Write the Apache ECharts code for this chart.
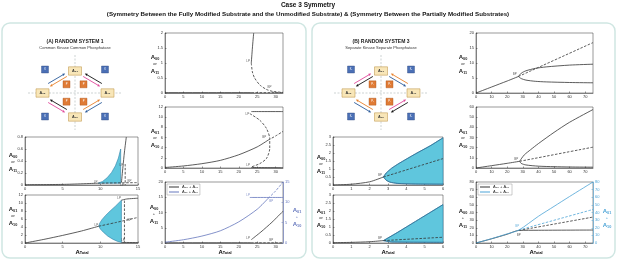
<!DOCTYPE html>
<html>
<head>
<meta charset="utf-8">
<script src="https://cdn.jsdelivr.net/npm/echarts@6/dist/echarts.min.js"></script>
<style>
  html, body { margin: 0; padding: 0; background: #fff; }
  #chart { width: 617px; height: 260px; }
</style>
</head>
<body>
<div id="chart"></div>
<script>
// ---------- data ----------
// (a) Random System 1, A00 or A11 vs ATotal (0-15)
const s1L1Solid = [[0, 0.005], [5, 0.01], [9.7, 0.03]];
const s1L1Dash = [[9.7, 0.03], [15, 0.04]];
const s1L1Fill = [[9.7, 0.03], [10.3, 0.06], [10.9, 0.12], [11.5, 0.21], [12, 0.32], [12.4, 0.45], [12.7, 0.6], [12.7, 0.03]];
const s1L1Steep = [[12.8, 0.04], [13.0, 0.3], [13.2, 0.55], [13.45, 0.8]];
const s1L1VDash = [[13.3, 0.35], [13.3, 0]];
const s1L1Marks = [[9.7, 0.05, 'LP'], [13.1, 0.33, 'LP'], [14.2, 0.07, 'BP'], [13.2, 0.0, 'LP']];
// (a) A01 or A10
const s1L2Solid = [[0, 0], [2.5, 0.9], [5, 1.9], [7.5, 3], [9.8, 4.2]];
const s1L2Dash = [[9.8, 4.2], [12, 5.1], [15, 6.4]];
const s1L2Fill = [[12.8, 0.15], [12.3, 0.4], [11.7, 0.9], [11, 1.7], [10.4, 2.7], [10, 3.5], [9.8, 4.2], [9.9, 4.9], [10.2, 5.8], [10.7, 6.9], [11.3, 8], [12, 9.2], [12.8, 10.7]];
const s1L2Top = [[12.8, 10.7], [13.5, 11], [15, 11.2]];
const s1L2Bot = [[12.8, 0.15], [15, 0.1]];
const s1L2VDash = [[13.2, 10.6], [13.2, 0.2]];
const s1L2Marks = [[9.8, 4.4, 'LP'], [12.8, 11.2, 'LP'], [14.2, 5.6, 'BP'], [13.3, 0.8, 'LP']];
// (a) right column, ATotal 0-32
const s1R1Base = [[0, 0.01], [23.5, 0.01]];
const s1R1BaseDash = [[23.5, 0.01], [32, 0.01]];
const s1R1Up = [[23.4, 1.0], [23.7, 1.5], [24.05, 2]];
const s1R1Dash = [[23.4, 1.0], [23.7, 0.7], [24.3, 0.5], [25.7, 0.27], [27.5, 0.12], [29.3, 0.05], [32, 0.02]];
const s1R1Marks = [[23.2, 1.05, 'LP'], [29, 0.18, 'BP'], [23.5, -0.08, 'LP']];
const s1R2Solid = [[0, 0.1], [5, 0.4], [10, 0.85], [15, 1.5], [20, 2.6], [25, 4.15], [28, 5.5]];
const s1R2Dash = [[28, 5.5], [30, 6.3], [32, 7.2]];
const s1R2Arc = [[23, 10.7], [25.7, 9.4], [27.5, 7.8], [28.4, 5.8], [28.4, 3.8], [27.5, 1.85], [25.7, 0.86], [23.4, 0.2]];
const s1R2Top = [[23.4, 11.1], [32, 11.1]];
const s1R2Bot = [[23.4, 0.1], [32, 0.05]];
const s1R2Marks = [[23, 10.6, 'LP'], [27.6, 6, 'BP'], [23.2, 0.6, 'LP']];
const s1R3Base = [[0, 0.05], [23.4, 0.05]];
const s1R3BaseDash = [[23.4, 0.05], [32, 0.05]];
const s1R3Rise = [[23.4, 1.1], [26, 3.6], [29, 6.8], [32, 10.4]];
const s1R3Blue = [[0, 0.2], [5, 0.8], [10, 1.7], [15, 3], [20, 5.2], [25, 8.3], [28, 11]];
const s1R3BlueDash = [[28, 11], [30, 12.8], [32, 15]];
const s1R3BlueFlat = [[23, 11.2], [32, 11.2]];
const s1R3Marks = [[23.2, 1.5, 'LP'], [29.5, 0.9, 'BP']];
const s1R3BlueMarks = [[23.2, 11.8, 'LP'], [29.5, 10.2, 'BP']];

// (b) Random System 3, ATotal 0-6
const s3L1Solid = [[0, 0], [1, 0.05], [2, 0.2], [2.75, 0.5]];
const s3L1Upper = [[2.75, 0.5], [2.9, 0.75], [3.2, 1.05], [3.6, 1.35], [4.5, 1.95], [5.3, 2.45], [6, 2.95]];
const s3L1Lower = [[2.75, 0.5], [2.9, 0.3], [3.1, 0.18], [3.5, 0.1], [4.5, 0.06], [6, 0.05]];
const s3L1Dash = [[2.75, 0.5], [6, 1.65]];
const s3L1Marks = [[2.7, 0.62, 'BP']];
const s3L2Solid = [[0, 0.02], [1, 0.04], [2, 0.08], [2.75, 0.15]];
const s3L2Upper = [[2.75, 0.15], [3.5, 0.65], [4.5, 1.35], [6, 2.4]];
const s3L2Lower = [[2.75, 0.15], [3.2, 0.06], [6, 0.04]];
const s3L2Dash = [[2.75, 0.15], [6, 0.36]];
const s3L2Marks = [[2.7, 0.3, 'BP']];
// (b) right column, ATotal 0-75
const s3R1Solid = [[0, 0], [10, 2], [20, 4], [27.2, 5.5]];
const s3R1Dash = [[27.2, 5.5], [75, 16.8]];
const s3R1Upper = [[27.2, 5.5], [29, 6.6], [32, 7.4], [38, 8.2], [45, 8.7], [60, 9.3], [75, 9.6]];
const s3R1Lower = [[27.2, 5.5], [29, 4.8], [32, 4.3], [38, 3.9], [45, 3.7], [60, 3.5], [75, 3.4]];
const s3R1Marks = [[26.5, 6.2, 'BP']];
const s3R2Solid = [[0, 0], [10, 2.3], [20, 4.6], [28, 6.6]];
const s3R2Upper = [[28, 6.6], [29, 9], [31, 13], [35, 18], [40, 24], [50, 35], [60, 45], [75, 57.5]];
const s3R2Lower = [[28, 6.6], [29, 4.5], [32, 3], [40, 1.8], [50, 1.3], [60, 1], [75, 0.8]];
const s3R2Dash = [[28, 6.6], [75, 20.5]];
const s3R2Marks = [[27.5, 8.5, 'BP']];
const s3R3Black = [[0, 0], [10, 5.5], [20, 11.5], [27.5, 16.5], [40, 16.7], [75, 17]];
const s3R3BlackDash = [[27.5, 16.5], [75, 34]];
const s3R3Blue = [[0, 0], [10, 5.7], [20, 12], [27.5, 17], [40, 35], [50, 48], [60, 61], [75, 80]];
const s3R3BlueDash = [[27.5, 17], [75, 44]];
const s3R3Marks = [[29, 10, 'BP']];
const s3R3BlueMarks = [[28, 22, 'BP']];

// axis ranges [max, interval] per panel
const xRanges = [[15, 5], [15, 5], [32, 5], [32, 5], [32, 5], [6, 1], [6, 1], [75, 10], [75, 10], [75, 10]];
const yRanges = [[0.8, 0.2], [12, 2], [2, 0.5], [12, 2], [20, 5], [3, 0.5], [3, 0.5], [20, 5], [60, 10], [80, 10]];
const rightRanges = [[4, 15, 5], [9, 80, 10]];

// ---------- layout ----------
const grids = [
  [25, 137, 113, 48], [25, 195, 113, 48], [165, 33, 118, 60], [165, 107, 118, 61], [165, 182, 118, 61],
  [333, 137, 110, 48], [333, 195, 110, 48], [476, 33, 117, 60], [476, 107, 117, 61], [476, 182, 117, 61]
];
const DARK = '#333';
const BLUE1 = '#6476bd';
const BLUE3 = '#4ba3d6';
const FILL = '#5fc6dd';

const chart = echarts.init(document.getElementById('chart'));

const xAxis = grids.map((g, i) => ({
  type: 'value', gridIndex: i, min: 0, max: xRanges[i][0], interval: xRanges[i][1],
  axisLine: { show: true, lineStyle: { color: DARK, width: 0.5 } },
  axisTick: { inside: true, length: 1.5, lineStyle: { width: 0.5 } },
  axisLabel: { fontSize: 4, color: DARK, margin: 2, showMaxLabel: xRanges[i][0] % xRanges[i][1] === 0 },
  splitLine: { show: false }
}));
const yAxis = grids.map((g, i) => ({
  type: 'value', gridIndex: i, min: 0, max: yRanges[i][0], interval: yRanges[i][1],
  axisLine: { show: true, lineStyle: { color: DARK, width: 0.5 } },
  axisTick: { inside: true, length: 1.5, lineStyle: { width: 0.5 } },
  axisLabel: { fontSize: 4, color: DARK, margin: 2 },
  splitLine: { show: false }
}));
rightRanges.forEach(r => {
  const c = r[0] === 4 ? BLUE1 : BLUE3;
  yAxis.push({
    type: 'value', gridIndex: r[0], position: 'right', min: 0, max: r[1], interval: r[2],
    axisLine: { show: true, lineStyle: { color: c, width: 0.6 } },
    axisTick: { inside: true, length: 1.5, lineStyle: { width: 0.5, color: c } },
    axisLabel: { fontSize: 4, color: c, margin: 2 },
    splitLine: { show: false }
  });
});

function ln(gi, yi, data, color, dashed, name) {
  return {
    type: 'line', name: name, xAxisIndex: gi, yAxisIndex: yi, data: data,
    showSymbol: false, symbol: 'none', smooth: 0.25, silent: true, z: 3,
    lineStyle: { color: color, width: 0.8, type: dashed ? [2.5, 1.5] : 'solid' },
    itemStyle: { color: color }
  };
}
function fill(gi, pts) {
  return {
    type: 'custom', xAxisIndex: gi, yAxisIndex: gi, data: [[0, 0]], silent: true, z: 2,
    renderItem: (p, api) => ({
      type: 'polygon',
      shape: { points: pts.map(q => api.coord(q)) },
      style: { fill: FILL, stroke: '#2f7fa8', lineWidth: 0.6 }
    })
  };
}
function marks(gi, yi, arr, color) {
  return {
    type: 'scatter', xAxisIndex: gi, yAxisIndex: yi, data: arr, symbolSize: 0.1, silent: true, z: 4,
    itemStyle: { color: 'rgba(0,0,0,0)' },
    label: { show: true, formatter: p => p.value[2], fontSize: 3, color: color || DARK, position: 'left', distance: 0.5 }
  };
}

const series = [
  fill(0, s1L1Fill),
  ln(0, 0, s1L1Solid, DARK), ln(0, 0, s1L1Dash, DARK, true), ln(0, 0, s1L1Steep, DARK),
  ln(0, 0, s1L1VDash, DARK, true), marks(0, 0, s1L1Marks),
  fill(1, s1L2Fill),
  ln(1, 1, s1L2Solid, DARK), ln(1, 1, s1L2Dash, DARK, true), ln(1, 1, s1L2Top, DARK),
  ln(1, 1, s1L2Bot, DARK), ln(1, 1, s1L2VDash, DARK, true), marks(1, 1, s1L2Marks),
  ln(2, 2, s1R1Base, DARK), ln(2, 2, s1R1BaseDash, DARK, true), ln(2, 2, s1R1Up, DARK),
  ln(2, 2, s1R1Dash, DARK, true), marks(2, 2, s1R1Marks),
  ln(3, 3, s1R2Solid, DARK), ln(3, 3, s1R2Dash, DARK, true), ln(3, 3, s1R2Arc, DARK, true),
  ln(3, 3, s1R2Top, DARK), ln(3, 3, s1R2Bot, DARK), marks(3, 3, s1R2Marks),
  ln(4, 4, s1R3Base, DARK, false, 'A₀₀ + A₁₁'), ln(4, 4, s1R3BaseDash, DARK, true), ln(4, 4, s1R3Rise, DARK),
  ln(4, 10, s1R3Blue, BLUE1, false, 'A₀₁ + A₁₀'), ln(4, 10, s1R3BlueDash, BLUE1, true),
  ln(4, 10, s1R3BlueFlat, BLUE1), marks(4, 4, s1R3Marks), marks(4, 10, s1R3BlueMarks, BLUE1),

  fill(5, s3L1Upper.concat(s3L1Lower.slice().reverse())),
  ln(5, 5, s3L1Solid, DARK), ln(5, 5, s3L1Upper, '#2f6f95'), ln(5, 5, s3L1Lower, '#2f6f95'),
  ln(5, 5, s3L1Dash, DARK, true), marks(5, 5, s3L1Marks),
  fill(6, s3L2Upper.concat(s3L2Lower.slice().reverse())),
  ln(6, 6, s3L2Solid, DARK), ln(6, 6, s3L2Upper, '#2f6f95'), ln(6, 6, s3L2Lower, '#2f6f95'),
  ln(6, 6, s3L2Dash, DARK, true), marks(6, 6, s3L2Marks),
  ln(7, 7, s3R1Solid, DARK), ln(7, 7, s3R1Dash, DARK, true), ln(7, 7, s3R1Upper, DARK),
  ln(7, 7, s3R1Lower, DARK), marks(7, 7, s3R1Marks),
  ln(8, 8, s3R2Solid, DARK), ln(8, 8, s3R2Upper, DARK), ln(8, 8, s3R2Lower, DARK),
  ln(8, 8, s3R2Dash, DARK, true), marks(8, 8, s3R2Marks),
  ln(9, 9, s3R3Black, DARK, false, 'A₀₀ + A₁₁ '), ln(9, 9, s3R3BlackDash, DARK, true),
  ln(9, 11, s3R3Blue, BLUE3, false, 'A₀₁ + A₁₀ '), ln(9, 11, s3R3BlueDash, BLUE3, true),
  marks(9, 9, s3R3Marks), marks(9, 11, s3R3BlueMarks, BLUE3)
];

// ---------- text and diagrams ----------
const sub = (a, s) => `{a|${a}}{s|${s}}`;
const labelRich = c => ({
  a: { fontSize: 6, fontWeight: 'bold', color: c },
  s: { fontSize: 3.8, fontWeight: 'bold', color: c, verticalAlign: 'bottom', padding: [2, 0, 0, 0] },
  o: { fontSize: 4, color: c }
});
function yLab(x, y, top, mid, bot, color) {
  const c = color || '#222';
  return {
    type: 'text', x: x, y: y, z: 10,
    style: {
      text: sub('A', top) + '\n{o|' + mid + '}\n' + sub('A', bot),
      rich: labelRich(c), fill: c, align: 'center', textAlign: 'center',
      verticalAlign: 'middle', textVerticalAlign: 'middle', lineHeight: 7
    }
  };
}
function xLab(x, y) {
  return {
    type: 'text', x: x, y: y, z: 10,
    style: { text: sub('A', 'Total'), rich: labelRich('#222'), align: 'center', textAlign: 'center', verticalAlign: 'middle', textVerticalAlign: 'middle' }
  };
}
function txt(x, y, text, size, weight, color) {
  return {
    type: 'text', x: x, y: y, z: 10,
    style: { text: text, fontSize: size, fontWeight: weight || 'normal', fill: color || '#222', align: 'center', textAlign: 'center', verticalAlign: 'middle', textVerticalAlign: 'middle' }
  };
}

const ARROW = { blue: '#2a5a9a', orange: '#e8802a', black: '#111', pink: '#e0479a' };
function arrow(x1, y1, x2, y2, color) {
  const dx = x2 - x1, dy = y2 - y1, L = Math.hypot(dx, dy);
  const ux = dx / L, uy = dy / L, h = 2.6, w = 1.2;
  return [
    { type: 'line', z: 6, shape: { x1: x1, y1: y1, x2: x2 - ux * h * 0.8, y2: y2 - uy * h * 0.8 }, style: { stroke: color, lineWidth: 0.9 } },
    { type: 'polygon', z: 6, shape: { points: [[x2, y2], [x2 - ux * h - uy * w, y2 - uy * h + ux * w], [x2 - ux * h + uy * w, y2 - uy * h - ux * w]] }, style: { fill: color } }
  ];
}
// pairs per diagonal (TL, TR, BL, BR): [outer colour, outer points to vertical box?, inner colour, inner points to vertical box?]
function diagram(cx, cy, title, subtitle, pairs, kLabels, pLabels) {
  const els = [];
  els.push({ type: 'line', z: 4, shape: { x1: cx, y1: cy - 38, x2: cx, y2: cy + 37 }, style: { stroke: '#9aa6a6', lineWidth: 0.5, lineDash: [2, 1.5] } });
  els.push({ type: 'line', z: 4, shape: { x1: cx - 47, y1: cy, x2: cx + 47, y2: cy }, style: { stroke: '#9aa6a6', lineWidth: 0.5, lineDash: [2, 1.5] } });
  els.push(txt(cx, cy - 51, title, 5, 'bold', '#222'));
  els.push(txt(cx, cy - 45.5, subtitle, 4, 'normal', '#333'));
  const diag = [
    [[-26, -8], [-9, -18]], [[9, -18], [26, -8]], [[-26, 8], [-9, 18]], [[9, 18], [26, 8]]
  ];
  diag.forEach((d, i) => {
    const [a, b] = d; // a: side end, b: vertical-box end
    const dx = b[0] - a[0], dy = b[1] - a[1], L = Math.hypot(dx, dy);
    let px = -dy / L, py = dx / L;
    const mx = (a[0] + b[0]) / 2, my = (a[1] + b[1]) / 2;
    if (px * mx + py * my < 0) { px = -px; py = -py; } // perp points outward
    const off = 1.7;
    const p = pairs[i];
    [[p[0], p[1], off], [p[2], p[3], -off]].forEach(([col, toVert, o]) => {
      const s = [cx + a[0] + px * o, cy + a[1] + py * o], e = [cx + b[0] + px * o, cy + b[1] + py * o];
      const seg = toVert ? arrow(s[0], s[1], e[0], e[1], ARROW[col]) : arrow(e[0], e[1], s[0], s[1], ARROW[col]);
      els.push(...seg);
    });
  });
  [[-30, -23.5], [30, -23.5], [-30, 23.5], [30, 23.5]].forEach((q, i) => {
    els.push({ type: 'rect', z: 7, shape: { x: cx + q[0] - 3.5, y: cy + q[1] - 3.5, width: 7, height: 7 }, style: { fill: '#4a6fb5', stroke: '#2d4a80', lineWidth: 0.4 } });
    els.push(txt(cx + q[0], cy + q[1], kLabels[i], 2.6, 'normal', '#fff'));
  });
  [[-8.5, -8.7], [8.5, -8.7], [-8.5, 8.7], [8.5, 8.7]].forEach((q, i) => {
    els.push({ type: 'rect', z: 7, shape: { x: cx + q[0] - 3.5, y: cy + q[1] - 3.5, width: 7, height: 7 }, style: { fill: '#e07b35', stroke: '#a8541c', lineWidth: 0.4 } });
    els.push(txt(cx + q[0], cy + q[1], pLabels[i], 2.6, 'normal', '#fff'));
  });
  [[0, -22, 'A₀₁'], [-32.5, 0, 'A₀₀'], [32.5, 0, 'A₁₁'], [0, 24, 'A₁₀']].forEach(q => {
    els.push({ type: 'rect', z: 7, shape: { x: cx + q[0] - 6.5, y: cy + q[1] - 4.2, width: 13, height: 8.4 }, style: { fill: '#f8e6b8', stroke: '#b88d3c', lineWidth: 0.5 } });
    els.push(txt(cx + q[0], cy + q[1], q[2], 3.8, 'bold', '#333'));
  });
  return els;
}

const graphic = [
  { type: 'rect', z: 0, shape: { x: 2, y: 23, width: 304, height: 235, r: 8 }, style: { fill: 'none', stroke: '#cfe6e2', lineWidth: 1.5 } },
  { type: 'rect', z: 0, shape: { x: 312, y: 23, width: 303, height: 235, r: 8 }, style: { fill: 'none', stroke: '#cfe6e2', lineWidth: 1.5 } },
  txt(308, 5.5, 'Case 3 Symmetry', 6.5, 'bold', '#111'),
  txt(308, 14.5, '(Symmetry Between the Fully Modified Substrate and the Unmodified Substrate) & (Symmetry Between the Partially Modified Substrates)', 6.2, 'bold', '#111'),
  ...diagram(75, 93, '(A) RANDOM SYSTEM 1', 'Common Kinase Common Phosphatase',
    [['blue', true, 'orange', false], ['black', false, 'pink', true], ['pink', true, 'black', false], ['blue', false, 'orange', true]],
    ['K', 'K', 'K', 'K'], ['P', 'P', 'P', 'P']),
  ...diagram(381, 93, '(B) RANDOM SYSTEM 3', 'Separate Kinase Separate Phosphatase',
    [['pink', true, 'black', false], ['orange', false, 'blue', true], ['blue', true, 'orange', false], ['black', false, 'pink', true]],
    ['K₁', 'K₂', 'K₂', 'K₁'], ['P₁', 'P₂', 'P₂', 'P₁']),
  yLab(13, 162, '00', 'or', '11'), yLab(13, 216, '01', 'or', '10'), xLab(82, 252),
  yLab(155, 64, '00', 'or', '11'), yLab(155, 138, '01', 'or', '10'),
  yLab(154, 214, '00', '+', '11'), yLab(297, 217, '01', '+', '10', BLUE1), xLab(225, 252),
  yLab(321, 164, '00', 'or', '11'), yLab(321, 218, '01', 'or', '10'), xLab(388, 252),
  yLab(463, 64, '00', 'or', '11'), yLab(463, 138, '01', 'or', '10'),
  yLab(463, 218, '00', '+', '11'), yLab(607, 218, '01', '+', '10', BLUE3), xLab(536, 252)
];

const legendBase = {
  orient: 'vertical', itemWidth: 10, itemHeight: 2, itemGap: 1, padding: [1, 2],
  icon: 'path://M0,0L20,0L20,2L0,2Z', borderColor: '#999', borderWidth: 0.5, backgroundColor: '#fff',
  textStyle: { fontSize: 4, color: '#222', padding: [0, 0, 0, -2] }, selectedMode: false
};

chart.setOption({
  animation: false,
  textStyle: { fontFamily: 'Liberation Sans, Arial, sans-serif' },
  grid: grids.map(g => ({ left: g[0], top: g[1], width: g[2], height: g[3], show: true, borderColor: DARK, borderWidth: 0.5 })),
  xAxis: xAxis,
  yAxis: yAxis,
  legend: [
    Object.assign({}, legendBase, { left: 167, top: 184, data: ['A₀₀ + A₁₁', 'A₀₁ + A₁₀'] }),
    Object.assign({}, legendBase, { left: 478, top: 184, data: ['A₀₀ + A₁₁ ', 'A₀₁ + A₁₀ '] })
  ],
  graphic: graphic,
  series: series
});
</script>
</body>
</html>
